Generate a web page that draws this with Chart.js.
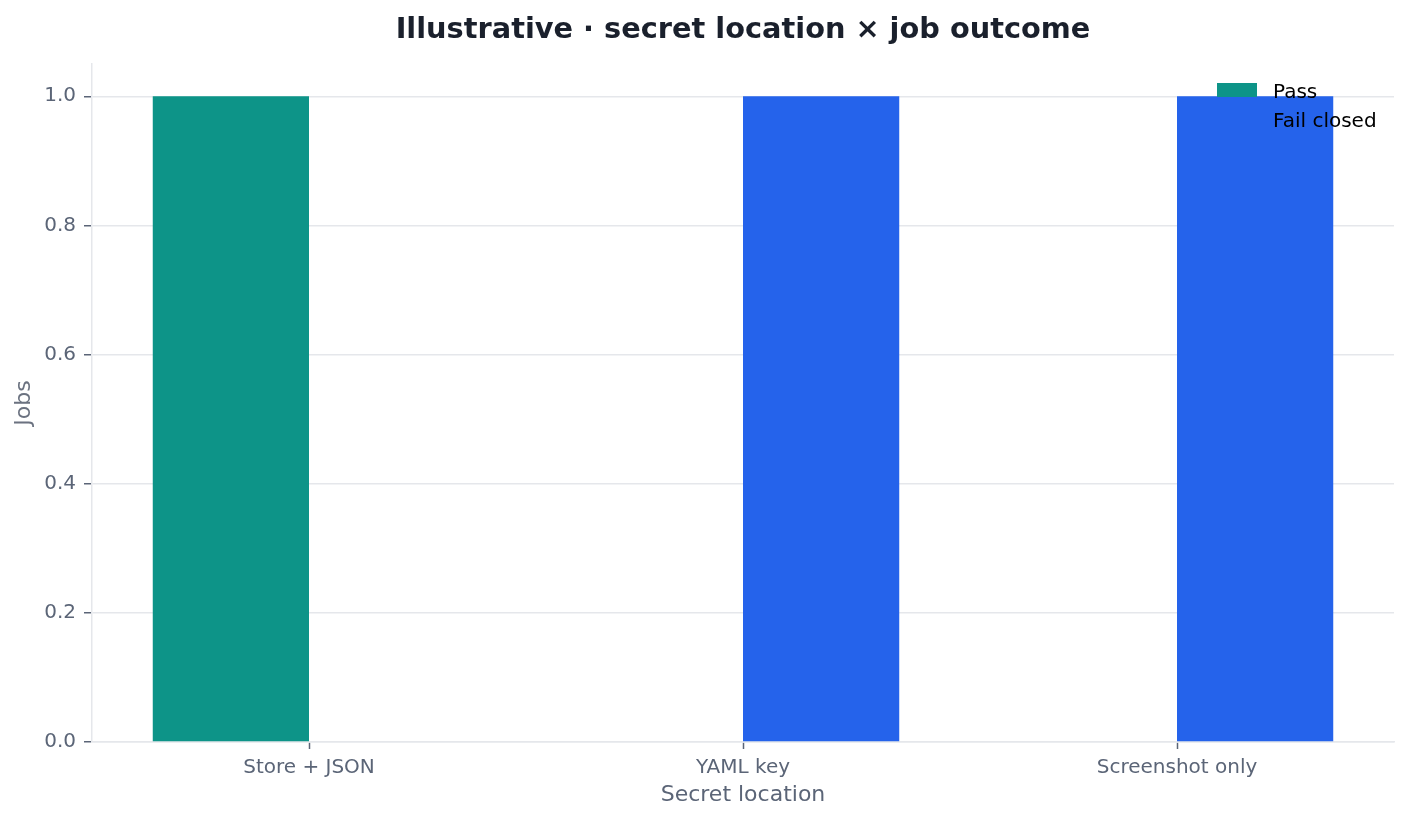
<!DOCTYPE html>
<html>
<head>
<meta charset="utf-8">
<script src="https://cdn.jsdelivr.net/npm/chart.js@4.4.1/dist/chart.umd.min.js"></script>
<style>
  html, body { margin: 0; padding: 0; background: #ffffff; }
  #wrap { width: 1410px; height: 821px; }
</style>
</head>
<body>
<div id="wrap"><canvas id="chart" width="1410" height="821"></canvas></div>
<script>
const categories = ['Store + JSON', 'YAML key', 'Screenshot only'];
const passJobs = [1, 0, 0];
const failClosedJobs = [0, 1, 1];
const yTicks = [0, 0.2, 0.4, 0.6, 0.8, 1.0];
const chartTitle = 'Illustrative \u00b7 secret location \u00d7 job outcome';

const FONT = "'DejaVu Sans', sans-serif";
const tickColor = '#5b6577';
const gridColor = '#e5e7eb';

// title centred over the plot area, like matplotlib does it
const titlePlugin = {
    id: 'axesTitle',
    afterDraw(chart) {
        const { ctx, chartArea } = chart;
        ctx.save();
        ctx.font = `bold 28.8px ${FONT}`;
        ctx.fillStyle = '#1a202c';
        ctx.textAlign = 'center';
        ctx.textBaseline = 'alphabetic';
        ctx.fillText(chartTitle, (chartArea.left + chartArea.right) / 2, 37.5);
        ctx.restore();
    }
};

// legend drawn inside the axes, on top of the bars, no frame
const innerLegend = {
    id: 'innerLegend',
    afterDatasetsDraw(chart) {
        const { ctx, chartArea } = chart;
        const x0 = chartArea.right - 177;
        ctx.save();
        ctx.font = `20px ${FONT}`;
        ctx.textAlign = 'left';
        ctx.textBaseline = 'alphabetic';
        chart.data.datasets.forEach((ds, i) => {
            const top = chartArea.top + 19 + i * 29;
            ctx.fillStyle = ds.backgroundColor;
            ctx.fillRect(x0, top, 40, 14);
            ctx.fillStyle = '#000000';
            ctx.fillText(ds.label, x0 + 56, top + 14.5);
        });
        ctx.restore();
    }
};

new Chart(document.getElementById('chart').getContext('2d'), {
    type: 'bar',
    data: {
        labels: categories,
        datasets: [
            { label: 'Pass', data: passJobs, backgroundColor: '#0d9488', borderWidth: 0 },
            { label: 'Fail closed', data: failClosedJobs, backgroundColor: '#2563eb', borderWidth: 0 }
        ]
    },
    options: {
        responsive: false,
        animation: false,
        devicePixelRatio: 1,
        categoryPercentage: 0.72,
        barPercentage: 1.0,
        layout: { padding: { top: 64, right: 16, left: 0, bottom: 0 } },
        plugins: {
            legend: { display: false },
            title: { display: false },
            tooltip: { enabled: false }
        },
        scales: {
            x: {
                afterFit: scale => { scale.height = 79; },
                grid: {
                    display: true, offset: false, drawOnChartArea: false, drawTicks: true,
                    tickLength: 7, tickColor: tickColor, tickWidth: 1.5
                },
                border: { display: true, color: gridColor, width: 1.5 },
                ticks: { color: tickColor, font: { family: FONT, size: 20 }, padding: 7 },
                title: {
                    display: true, text: 'Secret location', color: tickColor,
                    font: { family: FONT, size: 22 }, padding: { top: 0, bottom: 13 }
                }
            },
            y: {
                min: 0,
                max: 1.05,
                afterFit: scale => { scale.width = 92; },
                afterBuildTicks: scale => { scale.ticks = yTicks.map(v => ({ value: v })); },
                grid: {
                    color: gridColor, lineWidth: 1.5, drawTicks: true,
                    tickLength: 8, tickColor: tickColor, tickWidth: 1.5
                },
                border: { display: true, color: gridColor, width: 1.5 },
                ticks: {
                    color: tickColor, font: { family: FONT, size: 20 }, padding: 8,
                    callback: v => Number(v).toFixed(1)
                },
                title: {
                    display: true, text: 'Jobs', color: '#6b7280',
                    font: { family: FONT, size: 22 }, padding: { top: 11, bottom: 0 }
                }
            }
        }
    },
    plugins: [titlePlugin, innerLegend]
});
</script>
</body>
</html>
